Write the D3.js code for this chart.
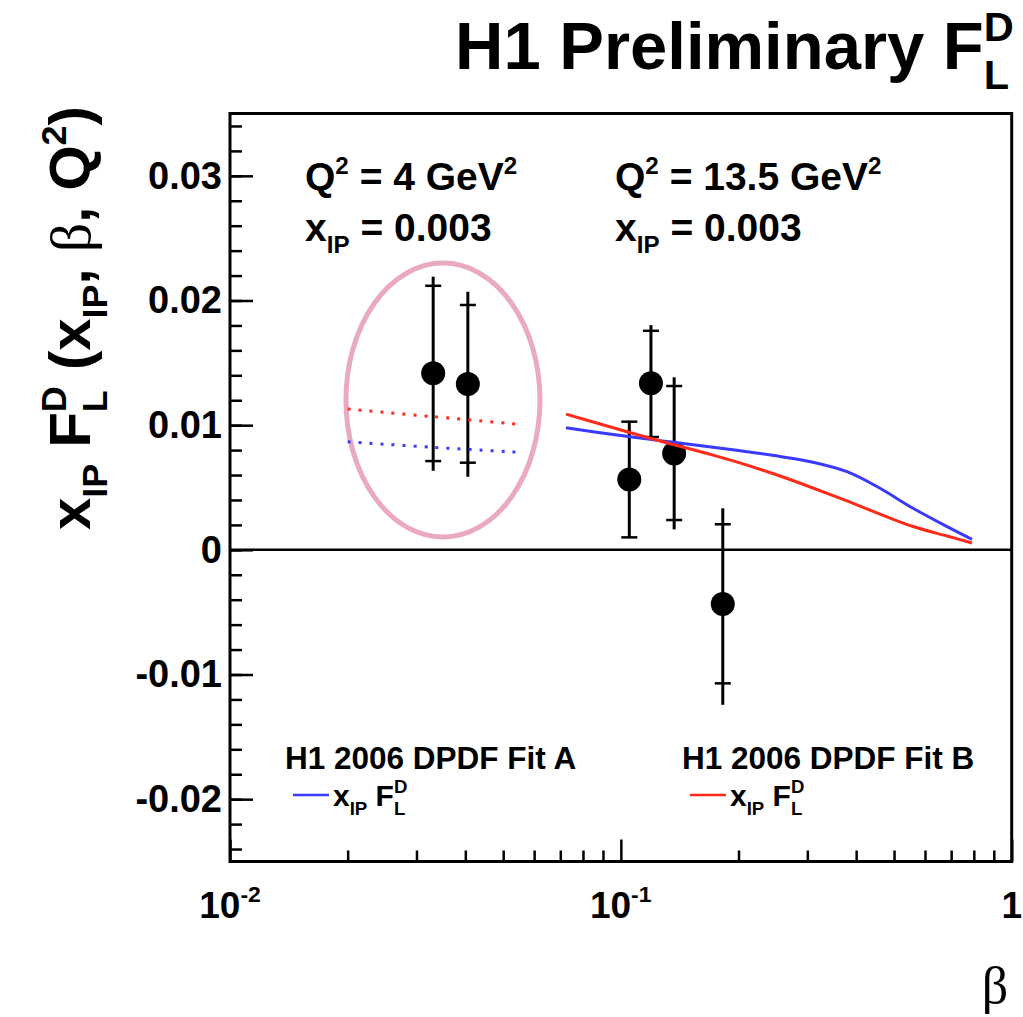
<!DOCTYPE html>
<html>
<head>
<meta charset="utf-8">
<script src="https://cdn.jsdelivr.net/npm/d3@7"></script>
<style>
  html, body { margin: 0; padding: 0; background: #fff; }
  svg { display: block; }
  text { font-family: "Liberation Sans", Arial, Helvetica, sans-serif; font-weight: bold; fill: #000; }
</style>
</head>
<body>
<div id="chart"></div>
<script>
// measured points: beta, xIP*FL^D, stat and total error edges
const beta   = [0.0331, 0.0406, 0.1051, 0.1194, 0.1369, 0.1823];
const fLD    = [0.01416, 0.01330, 0.00565, 0.01336, 0.00772, -0.00435];
const statHi = [0.02118, 0.01964, 0.01028, 0.01757, 0.01314, 0.00205];
const statLo = [0.00712, 0.00699, 0.00100, 0.00905, 0.00239, -0.01071];
const totHi  = [0.02191, 0.02070, 0.01028, 0.01803, 0.01384, 0.00333];
const totLo  = [0.00634, 0.00586, 0.00100, 0.00905, 0.00164, -0.01243];

// Fit A (blue) and Fit B (red), Q2 = 13.5 GeV2
const fitBeta = [0.0724, 0.0885, 0.1259, 0.1721, 0.2103, 0.2555, 0.3101, 0.3790, 0.4602, 0.5592, 0.6833, 0.7914];
const fitA    = [0.00980, 0.00940, 0.00876, 0.00822, 0.00787, 0.00749, 0.00703, 0.00627, 0.00494, 0.00333, 0.00186, 0.00084];
const fitB    = [0.01089, 0.01009, 0.00873, 0.00760, 0.00680, 0.00592, 0.00496, 0.00392, 0.00287, 0.00187, 0.00111, 0.00055];

// Q2 = 4 GeV2 fits (dotted)
const lowBeta = [0.0200, 0.0331, 0.0540];
const lowA    = [0.00867, 0.00822, 0.00784];
const lowB    = [0.01129, 0.01068, 0.01009];

const yMajor = [-0.02, -0.01, 0, 0.01, 0.02, 0.03];
const yMajorLabels = ["-0.02", "-0.01", "0", "0.01", "0.02", "0.03"];
const xMajor = [0.01, 0.1, 1];
const xMajorLabels = [["10", "-2"], ["10", "-1"], ["1", ""]];

const width = 1023, height = 1017;
const plotL = 230, plotR = 1011.7, plotT = 113.5, plotB = 861.5;

const svg = d3.select("#chart").append("svg")
  .attr("width", width)
  .attr("height", height);

const x = d3.scaleLog().domain([0.01, 1]).range([plotL, plotR]);
const y = d3.scaleLinear().domain([-0.025, 0.035]).range([plotB, plotT]);

// rich text helper: parts = [{t, pos: 'n'|'sup'|'sub'}, {sup, sub}]
function rich(parent, parts, size) {
  const g = parent.append("g");
  const text = g.append("text").attr("font-size", size);
  let shift = 0;
  let pending = 0;
  parts.forEach(p => {
    if (p.sup !== undefined) {
      const s1 = text.append("tspan").text(p.sup)
        .attr("font-size", size * 0.62)
        .attr("dy", -size * 0.42 - shift)
        .attr("dx", pending + (p.dx || 0));
      const w1 = s1.node().getComputedTextLength();
      const s2 = text.append("tspan").text(p.sub)
        .attr("font-size", size * 0.62)
        .attr("dy", size * 0.72)
        .attr("dx", -w1);
      const w2 = s2.node().getComputedTextLength();
      shift = size * 0.30;
      pending = Math.max(0, w1 - w2);
      return;
    }
    let target = 0;
    let fs = size;
    if (p.pos === "sup") { target = -size * 0.42; fs = size * 0.62; }
    if (p.pos === "sub") { target = size * 0.30; fs = size * 0.62; }
    const ts = text.append("tspan").text(p.t)
      .attr("font-size", fs)
      .attr("dy", target - shift)
      .attr("dx", pending + (p.dx || 0));
    if (p.font) ts.style("font-family", p.font).style("font-weight", "normal");
    shift = target;
    pending = 0;
  });
  return g;
}

function place(g, px, py, anchor) {
  const bb = g.node().getBBox();
  let dx = px;
  if (anchor === "middle") dx = px - (bb.x + bb.width / 2);
  if (anchor === "end") dx = px - (bb.x + bb.width);
  g.attr("transform", `translate(${dx},${py})`);
}

// title
const title = rich(svg, [{ t: "H1 Preliminary F" }, { sup: "D", sub: "L" }], 67);
place(title, 455, 69, "start");

// y axis title (rotated)
const ylab = rich(svg, [
  { t: "x" }, { t: "IP", pos: "sub" }, { t: " F", pos: "n" }, { sup: "D", sub: "L" },
  { t: " (x", pos: "n" }, { t: "IP", pos: "sub" }, { t: ", ", pos: "n" },
  { t: "β", pos: "n", font: "Liberation Serif" }, { t: ", Q", pos: "n" }, { t: "2", pos: "sup" }, { t: ")", pos: "n" }
], 58);
{
  const bb = ylab.node().getBBox();
  ylab.attr("transform", `translate(90,${318 + bb.width / 2}) rotate(-90)`);
}

// frame
svg.append("rect")
  .attr("x", plotL).attr("y", plotT)
  .attr("width", plotR - plotL).attr("height", plotB - plotT)
  .attr("fill", "none").attr("stroke", "#000").attr("stroke-width", 3);

// y axis ticks
const yMinor = d3.range(-0.024, 0.0351, 0.002).map(v => +v.toFixed(3));
const yAxisMinor = d3.axisLeft(y).tickValues(yMinor).tickSize(-12).tickFormat("");
const yAxisMajor = d3.axisLeft(y).tickValues(yMajor).tickSize(-23).tickPadding(8)
  .tickFormat((d, i) => yMajorLabels[i]);
svg.append("g").attr("transform", `translate(${plotL},0)`).call(yAxisMinor)
  .call(g => g.select(".domain").remove())
  .call(g => g.selectAll("line").attr("stroke-width", 2.5));
const yg = svg.append("g").attr("transform", `translate(${plotL},0)`).call(yAxisMajor)
  .call(g => g.select(".domain").remove())
  .call(g => g.selectAll("line").attr("stroke-width", 2.5));
yg.attr("font-family", null).attr("font-size", null);
yg.selectAll("text").attr("font-size", 38).attr("fill", "#000");

// x axis ticks
const xMinor = [];
[0.01, 0.1].forEach(dec => { for (let k = 2; k <= 9; k++) xMinor.push(dec * k); });
svg.append("g").attr("transform", `translate(0,${plotB})`)
  .call(d3.axisBottom(x).tickValues(xMinor).tickSize(-11).tickFormat(""))
  .call(g => g.select(".domain").remove())
  .call(g => g.selectAll("line").attr("stroke-width", 2.5));
svg.append("g").attr("transform", `translate(0,${plotB})`)
  .call(d3.axisBottom(x).tickValues(xMajor).tickSize(-22).tickFormat(""))
  .call(g => g.select(".domain").remove())
  .call(g => g.selectAll("line").attr("stroke-width", 2.5));

xMajor.forEach((v, i) => {
  const parts = [{ t: xMajorLabels[i][0] }];
  if (xMajorLabels[i][1]) parts.push({ t: xMajorLabels[i][1], pos: "sup" });
  const lab = rich(svg, parts, 37);
  place(lab, x(v), 918, "middle");
});

// beta label
svg.append("text")
  .attr("x", 995).attr("y", 1003)
  .attr("text-anchor", "middle")
  .attr("font-size", 52)
  .style("font-family", "Liberation Serif")
  .style("font-weight", "normal")
  .text("β");

// zero line
svg.append("line")
  .attr("x1", plotL).attr("x2", plotR)
  .attr("y1", y(0)).attr("y2", y(0))
  .attr("stroke", "#000").attr("stroke-width", 2.5);

// kinematic labels
function kin(px, q2) {
  const a = rich(svg, [{ t: "Q" }, { t: "2", pos: "sup" }, { t: " = " + q2 + " GeV" }, { t: "2", pos: "sup" }], 39);
  place(a, px, 190, "start");
  const b = rich(svg, [{ t: "x" }, { t: "IP", pos: "sub" }, { t: " = 0.003" }], 39);
  place(b, px, 241, "start");
}
kin(305, "4");
kin(615, "13.5");

// highlight ellipse around Q2 = 4 GeV2 points
const ellB = [0.0198, 0.0621], ellV = [0.00103, 0.0230];
svg.append("ellipse")
  .attr("cx", (x(ellB[0]) + x(ellB[1])) / 2)
  .attr("cy", (y(ellV[0]) + y(ellV[1])) / 2)
  .attr("rx", (x(ellB[1]) - x(ellB[0])) / 2)
  .attr("ry", (y(ellV[0]) - y(ellV[1])) / 2)
  .attr("fill", "none")
  .attr("stroke", "#e9a9c1")
  .attr("stroke-width", 5);

const blue = "#3a3aff", red = "#ff2a1a";

// data points
const pts = beta.map((b, i) => ({ b, v: fLD[i], sh: statHi[i], sl: statLo[i], th: totHi[i], tl: totLo[i] }));
const pg = svg.append("g");
pg.selectAll(".bar").data(pts).join("line")
  .attr("class", "bar")
  .attr("x1", d => x(d.b)).attr("x2", d => x(d.b))
  .attr("y1", d => y(d.th)).attr("y2", d => y(d.tl))
  .attr("stroke", "#000").attr("stroke-width", 3);
pg.selectAll(".tickHi").data(pts).join("line")
  .attr("class", "tickHi")
  .attr("x1", d => x(d.b) - 8).attr("x2", d => x(d.b) + 8)
  .attr("y1", d => y(d.sh)).attr("y2", d => y(d.sh))
  .attr("stroke", "#000").attr("stroke-width", 2.5);
pg.selectAll(".tickLo").data(pts).join("line")
  .attr("class", "tickLo")
  .attr("x1", d => x(d.b) - 8).attr("x2", d => x(d.b) + 8)
  .attr("y1", d => y(d.sl)).attr("y2", d => y(d.sl))
  .attr("stroke", "#000").attr("stroke-width", 2.5);
pg.selectAll("circle").data(pts).join("circle")
  .attr("cx", d => x(d.b)).attr("cy", d => y(d.v))
  .attr("r", 12).attr("fill", "#000");

// fit curves
const line = d3.line()
  .x(d => x(d[0]))
  .y(d => y(d[1]))
  .curve(d3.curveCatmullRom.alpha(0.5));

svg.append("path").datum(lowBeta.map((b, i) => [b, lowB[i]]))
  .attr("d", line).attr("fill", "none").attr("stroke", red)
  .attr("stroke-width", 3).attr("stroke-dasharray", "3,8");
svg.append("path").datum(lowBeta.map((b, i) => [b, lowA[i]]))
  .attr("d", line).attr("fill", "none").attr("stroke", blue)
  .attr("stroke-width", 3).attr("stroke-dasharray", "3,8");

svg.append("path").datum(fitBeta.map((b, i) => [b, fitA[i]]))
  .attr("d", line).attr("fill", "none").attr("stroke", blue).attr("stroke-width", 3);
svg.append("path").datum(fitBeta.map((b, i) => [b, fitB[i]]))
  .attr("d", line).attr("fill", "none").attr("stroke", red).attr("stroke-width", 3);

// legends
function legend(px, name, color) {
  svg.append("text").attr("x", px).attr("y", 769).attr("font-size", 31.5).text(name);
  svg.append("line")
    .attr("x1", px + 8).attr("x2", px + 44)
    .attr("y1", 795).attr("y2", 795)
    .attr("stroke", color).attr("stroke-width", 2.5);
  const l = rich(svg, [{ t: "x" }, { t: "IP", pos: "sub" }, { t: " F" }, { sup: "D", sub: "L" }], 30);
  place(l, px + 48, 806, "start");
}
legend(285, "H1 2006 DPDF Fit A", blue);
legend(682, "H1 2006 DPDF Fit B", red);
</script>
</body>
</html>
